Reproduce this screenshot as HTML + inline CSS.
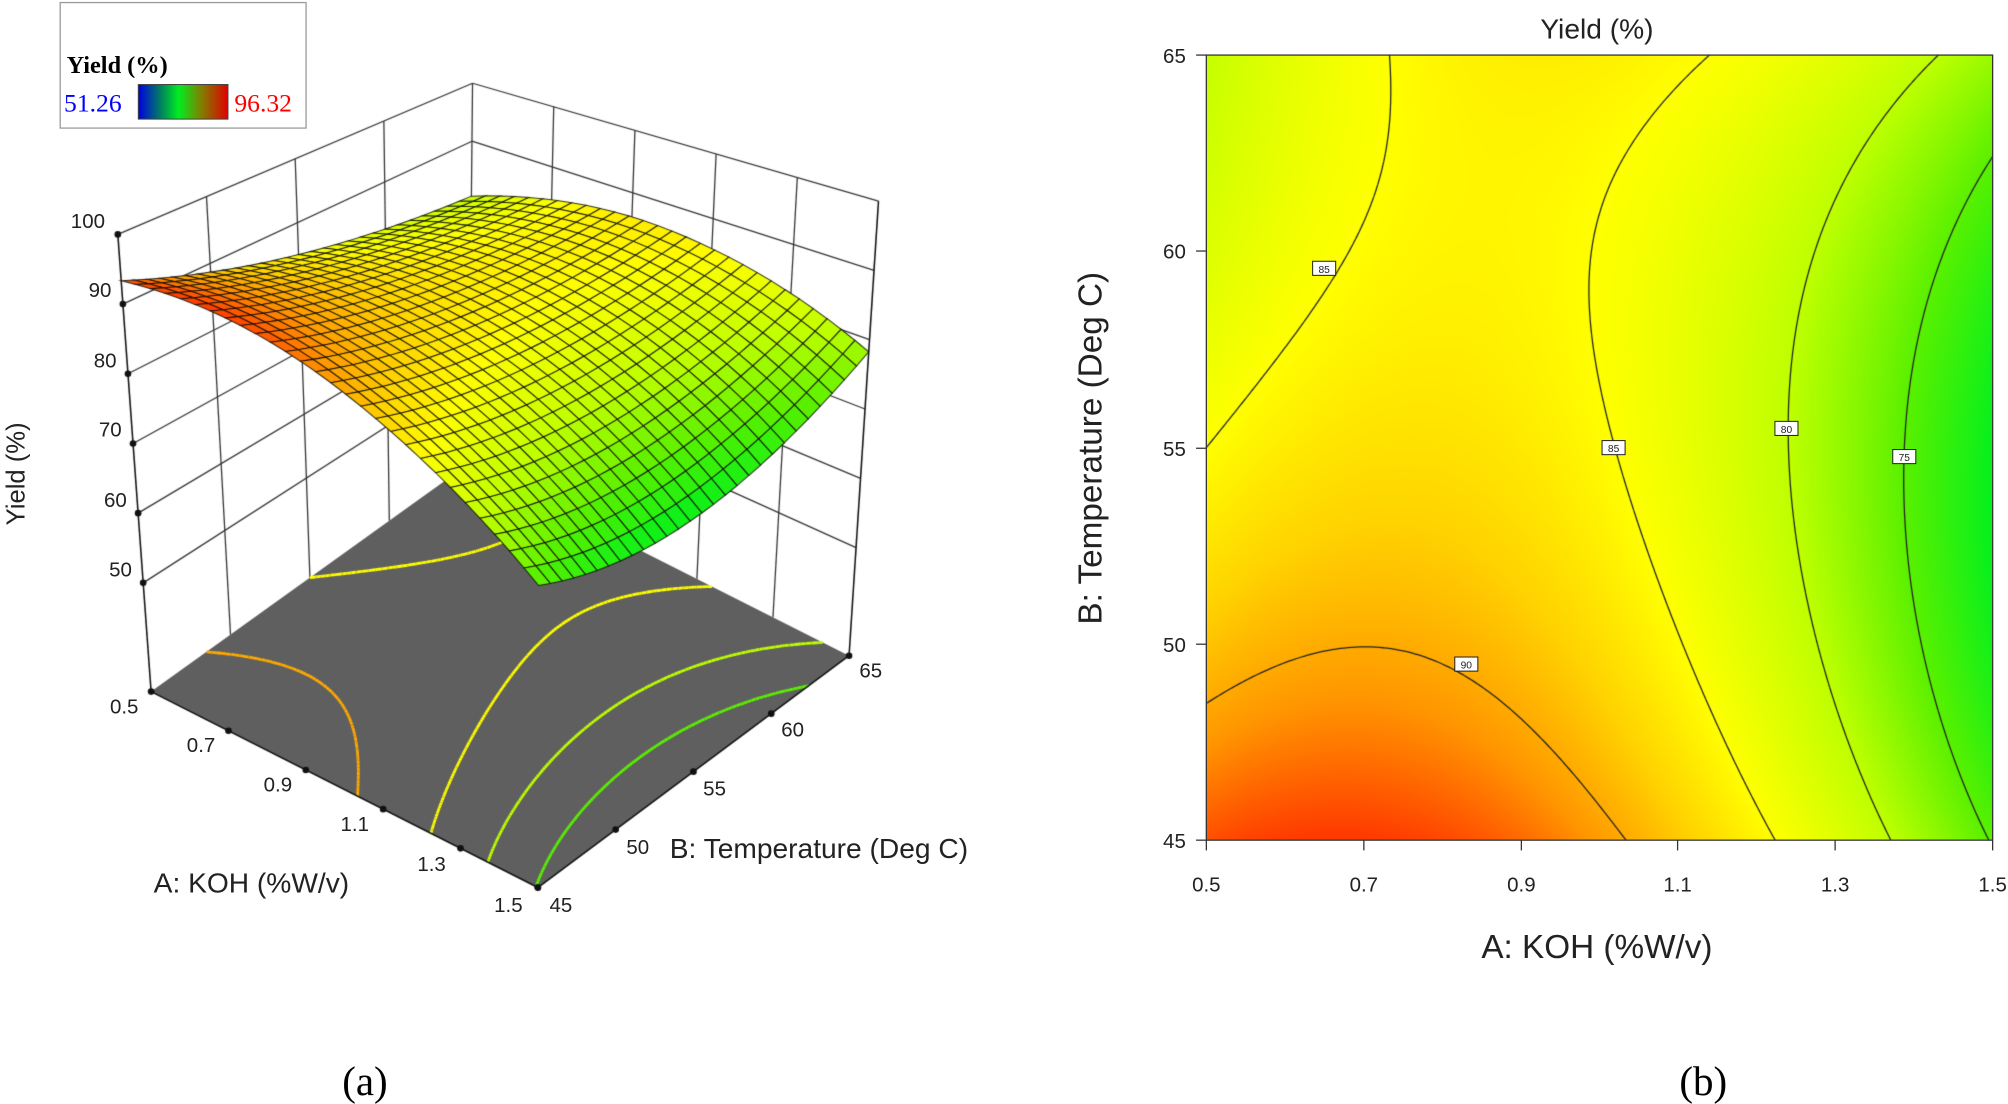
<!DOCTYPE html>
<html><head><meta charset="utf-8">
<style>
html,body{margin:0;padding:0;background:#fff;}
#wrap{position:relative;width:2008px;height:1104px;overflow:hidden;}
canvas,svg{position:absolute;left:0;top:0;}
</style></head>
<body><div id="wrap">
<canvas id="c" width="2008" height="1104"></canvas>
<svg width="2008" height="1104" viewBox="0 0 1568 862" preserveAspectRatio="none" xmlns="http://www.w3.org/2000/svg" font-family="Liberation Sans, DejaVu Sans, sans-serif">
<defs>
<linearGradient id="lg" x1="0" x2="1" y1="0" y2="0">
<stop offset="0" stop-color="#0000e0"/><stop offset="0.25" stop-color="#008060"/><stop offset="0.45" stop-color="#00ee20"/><stop offset="0.7" stop-color="#808000"/><stop offset="1" stop-color="#e00000"/>
</linearGradient>
</defs>
<rect x="47" y="2" width="192" height="98" fill="#fff" stroke="#999" stroke-width="1"/>
<text x="52" y="57" font-family="Liberation Serif, serif" font-weight="bold" font-size="19">Yield (%)</text>
<text x="50" y="87" font-family="Liberation Serif, serif" font-size="20" fill="#0000ff">51.26</text>
<rect x="108" y="66" width="70" height="27" fill="url(#lg)" stroke="#444" stroke-width="0.8"/>
<text x="183" y="87" font-family="Liberation Serif, serif" font-size="20" fill="#ff0000">96.32</text>
<g font-size="16" fill="#222" text-anchor="end">
<text x="82" y="178">100</text><text x="87" y="232">90</text><text x="91" y="287">80</text>
<text x="95" y="341">70</text><text x="99" y="396">60</text><text x="103" y="450">50</text>
</g>
<text transform="translate(19,370) rotate(-90)" font-size="20" text-anchor="middle" fill="#222">Yield (%)</text>
<g font-size="16" fill="#222" text-anchor="middle">
<text x="97" y="557">0.5</text><text x="157" y="587">0.7</text><text x="217" y="618">0.9</text>
<text x="277" y="649">1.1</text><text x="337" y="680">1.3</text><text x="397" y="712">1.5</text>
<text x="438" y="712">45</text><text x="498" y="667">50</text><text x="558" y="621">55</text>
<text x="619" y="575">60</text><text x="680" y="529">65</text>
</g>
<text x="120" y="697" font-size="22" fill="#222">A: KOH (%W/v)</text>
<text x="523" y="670" font-size="22" fill="#222">B: Temperature (Deg C)</text>
<text x="285" y="855" font-family="Liberation Serif, serif" font-size="32" text-anchor="middle">(a)</text>
<text x="1330" y="855" font-family="Liberation Serif, serif" font-size="32" text-anchor="middle">(b)</text>
<text x="1247" y="30" font-size="22" text-anchor="middle" fill="#222">Yield (%)</text>
<rect x="942" y="43" width="614" height="613" fill="none" stroke="#333" stroke-width="1"/>
<g stroke="#333" stroke-width="1">
<line x1="934" y1="43" x2="942" y2="43"/><line x1="934" y1="196" x2="942" y2="196"/><line x1="934" y1="350" x2="942" y2="350"/><line x1="934" y1="503" x2="942" y2="503"/><line x1="934" y1="656" x2="942" y2="656"/>
<line x1="942" y1="656" x2="942" y2="664"/><line x1="1065" y1="656" x2="1065" y2="664"/><line x1="1188" y1="656" x2="1188" y2="664"/><line x1="1310" y1="656" x2="1310" y2="664"/><line x1="1433" y1="656" x2="1433" y2="664"/><line x1="1556" y1="656" x2="1556" y2="664"/>
</g>
<g font-size="16" fill="#222" text-anchor="end">
<text x="926" y="49">65</text><text x="926" y="202">60</text><text x="926" y="356">55</text><text x="926" y="509">50</text><text x="926" y="662">45</text>
</g>
<g font-size="16" fill="#222" text-anchor="middle">
<text x="942" y="696">0.5</text><text x="1065" y="696">0.7</text><text x="1188" y="696">0.9</text><text x="1310" y="696">1.1</text><text x="1433" y="696">1.3</text><text x="1556" y="696">1.5</text>
</g>
<text x="1247" y="748" font-size="26" text-anchor="middle" fill="#222">A: KOH (%W/v)</text>
<text transform="translate(860,350) rotate(-90)" font-size="26" text-anchor="middle" fill="#222">B: Temperature (Deg C)</text>
<g font-size="8" text-anchor="middle" fill="#222">
<rect x="1025" y="204" width="18" height="11" fill="#fff" stroke="#222" stroke-width="0.8"/><text x="1034" y="213">85</text>
<rect x="1251" y="344" width="18" height="11" fill="#fff" stroke="#222" stroke-width="0.8"/><text x="1260" y="353">85</text>
<rect x="1386" y="329" width="18" height="11" fill="#fff" stroke="#222" stroke-width="0.8"/><text x="1395" y="338">80</text>
<rect x="1478" y="351" width="18" height="11" fill="#fff" stroke="#222" stroke-width="0.8"/><text x="1487" y="360">75</text>
<rect x="1136" y="513" width="18" height="11" fill="#fff" stroke="#222" stroke-width="0.8"/><text x="1145" y="522">90</text>
</g>
</svg>
</div>
<script>
(function(){
var cv=document.getElementById('c'),ctx=cv.getContext('2d');
var S=2008/1568,SY=1104/862;
function f(a,b){var m=a>0?a:0;return 85.3-7.35*a-7.65*a*a-2.34*b+3.08*b*b+4.07*a*b+1.14*a*b*b+2.0*m*m*b*b;}
var stops=[[66,[0,255,90]],[70,[0,240,30]],[75,[90,240,0]],[80,[190,255,0]],[85,[255,255,0]],[88,[255,210,0]],[91,[255,150,0]],[94,[255,60,0]],[97,[255,20,0]]];
function col(v){if(v<=stops[0][0])return stops[0][1];for(var i=1;i<stops.length;i++){if(v<=stops[i][0]){var t=(v-stops[i-1][0])/(stops[i][0]-stops[i-1][0]);var c0=stops[i-1][1],c1=stops[i][1];return [c0[0]+(c1[0]-c0[0])*t,c0[1]+(c1[1]-c0[1])*t,c0[2]+(c1[2]-c0[2])*t];}}return stops[stops.length-1][1];}
var X0=Math.round(942*S),X1=Math.round(1556*S),Y0=Math.round(43*SY),Y1=Math.round(656*SY);
var W=X1-X0,H=Y1-Y0,img=ctx.createImageData(W,H);
for(var y=0;y<H;y++){var b=1-2*y/(H-1);for(var x=0;x<W;x++){var a=-1+2*x/(W-1);var c=col(f(a,b));var k=(y*W+x)*4;img.data[k]=c[0];img.data[k+1]=c[1];img.data[k+2]=c[2];img.data[k+3]=255;}}
ctx.putImageData(img,X0,Y0);
ctx.setTransform(S,0,0,SY,0,0);
function march(N,levels,seg){
 var g=[];for(var i=0;i<=N;i++){g[i]=[];for(var j=0;j<=N;j++)g[i][j]=f(-1+2*i/N,-1+2*j/N);}
 levels.forEach(function(L){
  for(var i=0;i<N;i++)for(var j=0;j<N;j++){
   var v=[[i,j,g[i][j]],[i+1,j,g[i+1][j]],[i+1,j+1,g[i+1][j+1]],[i,j+1,g[i][j+1]]];var pts=[];
   for(var e=0;e<4;e++){var p=v[e],q=v[(e+1)%4];if((p[2]-L)*(q[2]-L)<0){var t=(L-p[2])/(q[2]-p[2]);pts.push([(p[0]+(q[0]-p[0])*t)/N,(p[1]+(q[1]-p[1])*t)/N]);}}
   if(pts.length>=2)seg(L,pts[0],pts[1]);if(pts.length==4)seg(L,pts[2],pts[3]);
  }
 });
}
ctx.strokeStyle='#222';ctx.lineWidth=1;ctx.beginPath();
march(200,[75,80,85,90],function(L,p,q){ctx.moveTo(942+p[0]*614,656-p[1]*613);ctx.lineTo(942+q[0]*614,656-q[1]*613);});
ctx.stroke();
var C={'000':[118,540],'100':[420,693],'110':[663,512],'010':[366,362],'001':[92,183],'101':[421,310],'111':[686,157],'011':[369,65]};
function P(u,v,w){var r=[0,0];for(var i=0;i<2;i++)for(var j=0;j<2;j++)for(var k=0;k<2;k++){var wt=(i?u:1-u)*(j?v:1-v)*(k?w:1-w);var p=C[''+i+j+k];r[0]+=wt*p[0];r[1]+=wt*p[1];}return r;}
var ZF=34.4;function W3(z){return (z-ZF)/(100-ZF);}
function line(a,b){ctx.beginPath();ctx.moveTo(a[0],a[1]);ctx.lineTo(b[0],b[1]);ctx.stroke();}
ctx.strokeStyle='#333';ctx.lineWidth=1;
for(var z=50;z<=100;z+=10){var w=W3(z);line(P(0,0,w),P(0,1,w));line(P(0,1,w),P(1,1,w));}
[0.25,0.5,0.75,1].forEach(function(v){line(P(0,v,0),P(0,v,1));});
[0.2,0.4,0.6,0.8].forEach(function(u){line(P(u,1,0),P(u,1,1));});
ctx.fillStyle='#5f5f5f';ctx.beginPath();var fl=[P(0,0,0),P(1,0,0),P(1,1,0),P(0,1,0)];ctx.moveTo(fl[0][0],fl[0][1]);for(var i=1;i<4;i++)ctx.lineTo(fl[i][0],fl[i][1]);ctx.closePath();ctx.fill();
ctx.lineWidth=2.2;
march(120,[90,85,80,75,70],function(L,p,q){var c=col(L);ctx.strokeStyle='rgb('+(c[0]|0)+','+(c[1]|0)+','+(c[2]|0)+')';var a=P(p[0],p[1],0),b2=P(q[0],q[1],0);line(a,b2);});
var N=28,cells=[];
for(var i=0;i<N;i++)for(var j=0;j<N;j++)cells.push([i,j,(i/N)+(1-j/N)]);
cells.sort(function(x,y){return x[2]-y[2];});
function SP(i,j){var u=i/N,v=j/N;return P(u,v,W3(f(2*u-1,2*v-1)));}
ctx.lineWidth=0.8;ctx.strokeStyle='rgba(10,10,0,0.85)';
cells.forEach(function(cl){var i=cl[0],j=cl[1];var p=[SP(i,j),SP(i+1,j),SP(i+1,j+1),SP(i,j+1)];
 var c=col(f(2*(i+0.5)/N-1,2*(j+0.5)/N-1));ctx.fillStyle='rgb('+(c[0]|0)+','+(c[1]|0)+','+(c[2]|0)+')';
 ctx.beginPath();ctx.moveTo(p[0][0],p[0][1]);for(var k=1;k<4;k++)ctx.lineTo(p[k][0],p[k][1]);ctx.closePath();ctx.fill();ctx.stroke();});
ctx.strokeStyle='#111';ctx.lineWidth=1.2;
line(P(0,0,0),P(1,0,0));line(P(1,0,0),P(1,1,0));line(P(1,1,0),P(1,1,1));line(P(0,0,0),P(0,0,1));
ctx.fillStyle='#111';
function dot(p){ctx.beginPath();ctx.arc(p[0],p[1],2.6,0,7);ctx.fill();}
for(var z=50;z<=100;z+=10)dot(P(0,0,W3(z)));
for(var k=0;k<=5;k++)dot(P(k/5,0,0));
for(var k=0;k<=4;k++)dot(P(1,k/4,0));
})();
</script>
</body></html>
